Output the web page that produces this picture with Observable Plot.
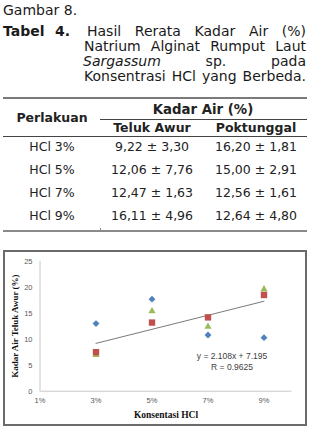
<!DOCTYPE html>
<html><head><meta charset="utf-8">
<script src="https://cdn.jsdelivr.net/npm/d3@7"></script>
<script src="https://cdn.jsdelivr.net/npm/@observablehq/plot@0.6"></script>
<style>
html,body{margin:0;padding:0;background:#fff}
body{width:313px;height:429px;position:relative;overflow:hidden;font-family:"DejaVu Sans",Verdana,sans-serif;color:#1a1a1a}
.a{position:absolute;white-space:nowrap}
.cap{font-size:14px;line-height:15px}
.j{white-space:normal;text-align:justify;text-align-last:justify}
.t{position:absolute;white-space:nowrap;font-size:12.5px;line-height:1;transform:translate(-50%,-50%);color:#222}
.b{font-weight:bold}
.rule{position:absolute;background:#555}
#chart{position:absolute;left:3px;top:250px}
#frame{position:absolute;left:3px;top:250px;width:304px;height:176px;border:2px solid #6b6b6b;box-sizing:border-box;pointer-events:none}
</style>
</head><body>
<div id="root"></div>
<div id="chart"></div>
<div id="frame"></div>
<script>
// ---- text content ----
const figureRef = "Gambar 8.";
const tableLabel = ["Tabel", "4."];
const titleLines = ["Hasil Rerata Kadar Air (%)", "Natrium Alginat Rumput Laut", "<i>Sargassum</i> sp. pada", "Konsentrasi HCl yang Berbeda."];
const headerGroup = "Kadar Air (%)";
const headerRow = "Perlakuan";
const headerCols = ["Teluk Awur", "Poktunggal"];
const treatments = ["HCl 3%", "HCl 5%", "HCl 7%", "HCl 9%"];
const telukAwur = ["9,22 ± 3,30", "12,06 ± 7,76", "12,47 ± 1,63", "16,11 ± 4,96"];
const poktunggal = ["16,20 ± 1,81", "15,00 ± 2,91", "12,56 ± 1,61", "12,64 ± 4,80"];

// ---- chart data ----
const concentrations = [3, 5, 7, 9];
const seriesBlue = [13.0, 17.7, 10.8, 10.3];
const seriesRed = [7.5, 13.2, 14.2, 18.5];
const seriesGreen = [7.0, 15.4, 12.4, 19.6];
const trendX = [3, 9];
const trendY = [9.2, 17.3];
const xTicks = [1, 3, 5, 7, 9];
const yTicks = [0, 5, 10, 15, 20, 25];
const xLabel = "Konsentasi HCl";
const yLabel = "Kadar Air Teluk Awur (%)";
const equation = ["y = 2.108x + 7.195", "R = 0.9625"];

// ---- caption & table (HTML) ----
const root = document.getElementById("root");
function add(html, cls, style) {
  const d = document.createElement("div");
  d.className = cls; d.innerHTML = html; d.style.cssText = style;
  root.appendChild(d); return d;
}
add(figureRef, "a cap", "left:3px;top:2.6px");
add(tableLabel[0], "a cap b", "left:3px;top:23.6px");
add(tableLabel[1], "a cap b", "left:55px;top:23.6px");
const lineGeo = [[87, 219, 23.6], [84, 222, 39.3], [83, 223, 54.3], [84, 222, 69.3]];
titleLines.forEach((s, i) => {
  const [l, w, t] = lineGeo[i];
  add(s, "a cap j", `left:${l}px;top:${t}px;width:${w}px`);
});
// rules
add("", "rule", "left:3px;top:96.5px;width:304px;height:2px;background:#7a7a7a");
add("", "rule", "left:100px;top:118.5px;width:207px;height:1px;background:#444");
add("", "rule", "left:3px;top:136px;width:304px;height:1px;background:#444");
add("", "rule", "left:3px;top:230px;width:304px;height:2px;background:#8a8a8a");
add("", "rule", "left:100px;top:228px;width:1px;height:2px;background:#8a8a8a");
// headers
add(headerGroup, "t b", "left:203px;top:110.3px;font-size:13.3px");
add(headerRow, "t b", "left:52px;top:118px");
add(headerCols[0], "t b", "left:152px;top:128px");
add(headerCols[1], "t b", "left:256px;top:128px");
const rowY = [147.3, 170, 193, 215.7];
treatments.forEach((s, i) => {
  add(s, "t", `left:52px;top:${rowY[i]}px`);
  add(telukAwur[i], "t", `left:152px;top:${rowY[i]}px`);
  add(poktunggal[i], "t", `left:256px;top:${rowY[i]}px`);
});

// ---- chart (Plot) ----
const chart = Plot.plot({
  width: 304,
  height: 176,
  marginLeft: 36.5,
  marginRight: 15.5,
  marginTop: 10.7,
  marginBottom: 35.3,
  style: {fontFamily: "'Liberation Sans', Arial, sans-serif", fontSize: "7.5px", color: "#595959", background: "transparent", overflow: "visible"},
  x: {type: "linear", domain: [1, 10]},
  y: {domain: [0, 25]},
  marks: [
    Plot.ruleY([0], {stroke: "#c8c8c8", strokeWidth: 1}),
    Plot.ruleX([1], {stroke: "#c8c8c8", strokeWidth: 1}),
    Plot.axisX(xTicks, {tickFormat: d => d + "%", tickSize: 0, tickPadding: 6, label: null}),
    Plot.axisY(yTicks, {tickSize: 0, tickPadding: 7.5, label: null}),
    Plot.line(trendX.map((x, i) => ({x, y: trendY[i]})), {x: "x", y: "y", stroke: "#7a7a7a", strokeWidth: 1}),
    Plot.dot(concentrations, {x: d => d, y: (d, i) => seriesBlue[i], symbol: "diamond2", r: 3.1, fill: "#4F81BD", stroke: "none"}),
    Plot.dot(concentrations, {x: d => d, y: (d, i) => seriesGreen[i], symbol: "triangle", r: 2.7, fill: "#9BBB59", stroke: "none"}),
    Plot.dot(concentrations, {x: d => d, y: (d, i) => seriesRed[i], symbol: "square", r: 3.6, fill: "#C0504D", stroke: "none"}),
    Plot.text([equation.join("\n")], {text: d => d, frameAnchor: "bottom-right", dx: -60, dy: -30.2, textAnchor: "middle", lineAnchor: "middle", lineHeight: 1.3, fontSize: 8.5, fill: "#404040"}),
    Plot.text([yLabel], {text: d => d, frameAnchor: "left", dx: -24.5, rotate: -90, textAnchor: "middle", lineAnchor: "middle", fontFamily: "'Liberation Serif', 'Times New Roman', serif", fontWeight: "bold", fontSize: 9, fill: "#111"}),
    Plot.text([xLabel], {text: d => d, frameAnchor: "bottom", dy: 23.3, textAnchor: "middle", lineAnchor: "middle", fontFamily: "'Liberation Serif', 'Times New Roman', serif", fontWeight: "bold", fontSize: 9.5, fill: "#111"})
  ]
});
document.getElementById("chart").appendChild(chart);
</script>
</body></html>
